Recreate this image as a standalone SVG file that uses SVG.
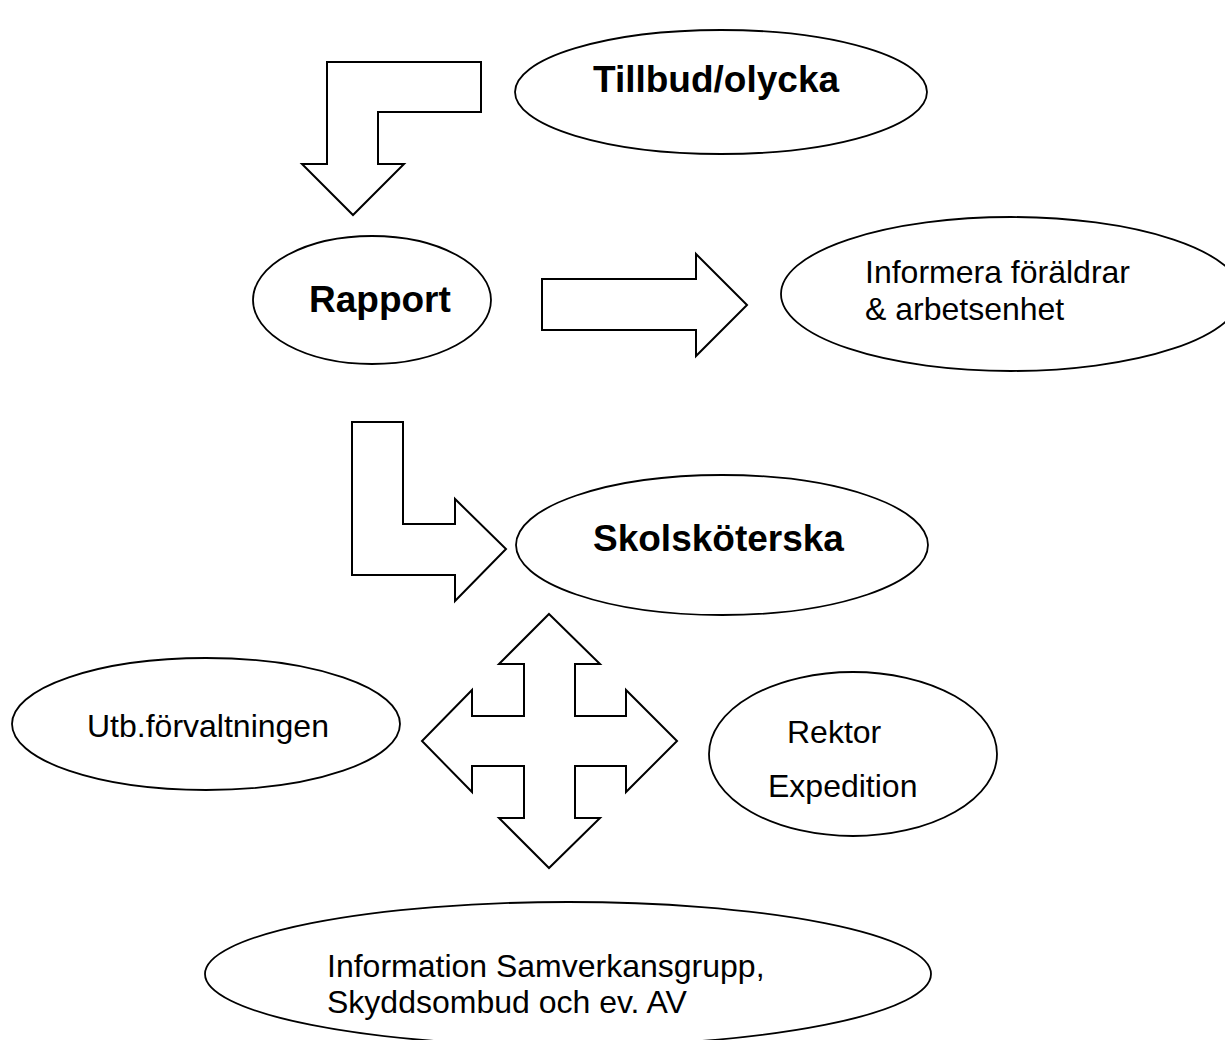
<svg xmlns="http://www.w3.org/2000/svg" width="1225" height="1040" viewBox="0 0 1225 1040">
<style>
.n{fill:#fff;stroke:#000;stroke-width:1.8}
.a{fill:#fff;stroke:#000;stroke-width:2;stroke-linejoin:miter}
.b{font-family:"Liberation Sans",Arial,sans-serif;font-weight:bold;font-size:37px;fill:#000}
.t{font-family:"Liberation Sans",Arial,sans-serif;font-size:32px;fill:#000}
</style>
<rect width="1225" height="1040" fill="#fff"/>
<g id="connectors">
<polygon class="a" points="327,62 481,62 481,112 378,112 378,164 404,164 353,215 302,164 327,164"/>
<polygon class="a" points="542,279 696,279 696,254 747,305 696,356 696,330 542,330"/>
<polygon class="a" points="352,422 403,422 403,524 455,524 455,499 506,549 455,601 455,575 352,575"/>
<polygon class="a" points="549,614 600,664 575,664 575,716 626,716 626,690 677,741 626,792 626,766 575,766 575,818 600,818 549,868 499,818 524,818 524,766 472,766 472,792 422,741 472,690 472,716 524,716 524,664 499,664"/>
</g>
<g id="tillbud">
<ellipse class="n" cx="721" cy="92" rx="206" ry="62"/>
<text class="b" x="593" y="92">Tillbud/olycka</text>
</g>
<g id="rapport">
<ellipse class="n" cx="372" cy="300" rx="119" ry="64"/>
<text class="b" x="309" y="312">Rapport</text>
</g>
<g id="informera">
<ellipse class="n" cx="1011" cy="294" rx="230" ry="77"/>
<text class="t" x="865" y="283">Informera föräldrar</text>
<text class="t" x="865" y="320">&amp; arbetsenhet</text>
</g>
<g id="skolskoterska">
<ellipse class="n" cx="722" cy="545" rx="206" ry="70"/>
<text class="b" x="593" y="551">Skolsköterska</text>
</g>
<g id="utb">
<ellipse class="n" cx="206" cy="724" rx="194" ry="66"/>
<text class="t" x="87" y="737">Utb.förvaltningen</text>
</g>
<g id="rektor">
<ellipse class="n" cx="853" cy="754" rx="144" ry="82"/>
<text class="t" x="787" y="743">Rektor</text>
<text class="t" x="768" y="797">Expedition</text>
</g>
<g id="information">
<ellipse class="n" cx="568" cy="974" rx="363" ry="72"/>
<text class="t" x="327" y="977">Information Samverkansgrupp,</text>
<text class="t" x="327" y="1013">Skyddsombud och ev. AV</text>
</g>
</svg>
